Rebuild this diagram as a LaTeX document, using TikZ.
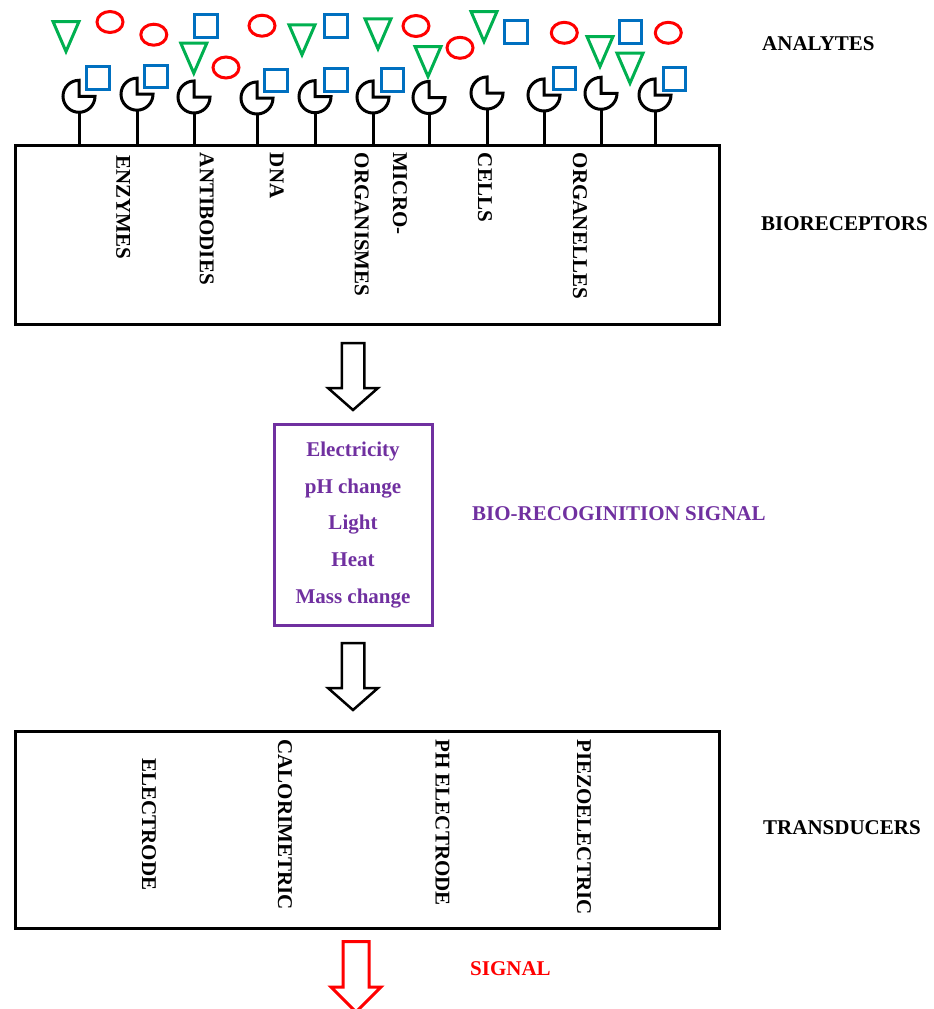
\documentclass[tikz,border=0pt]{standalone}
\usepackage{fontspec}
\setmainfont{Liberation Serif}
\usetikzlibrary{shapes,calc}
\definecolor{sigpurple}{HTML}{7030A0}
\definecolor{anablue}{HTML}{0070C0}
\definecolor{anagreen}{HTML}{00B050}
\definecolor{anared}{HTML}{FF0000}
% hollow block arrow: style, top centre, shaft half width, shaft length, head extension, head length
\newcommand{\blockarrow}[6]{\draw[#1] ([xshift=-#3]#2) -- ++(0,-#4) -- ++(-#5,0) -- ++(#3+#5,-#6) -- ++(#3+#5,#6) -- ++(-#5,0) -- ++(0,#4) -- cycle;}
% receptor head (circle with the upper right quarter cut away) and its stem
\newcommand{\receptor}[1]{\draw[recline] (#1.center) -- ++(16,0) arc[start angle=0, end angle=-270, radius=16] -- cycle;
  \draw[recline] (#1.south) -- (#1.south |- bio.north);}
% downward triangle hanging from the top centre point
\newcommand{\downtri}[1]{\draw[tri] ([xshift=-13]#1) -- ([xshift=13]#1) -- ([yshift=-30]#1) -- cycle;}

\begin{document}
\begin{tikzpicture}[x=1pt, y=1pt]
\tikzstyle{txt}=[font=\bfseries\fontsize{21}{25}\selectfont, inner sep=0]
\tikzstyle{vtxt}=[txt, rotate=-90, anchor=west]
\tikzstyle{side}=[txt, anchor=west]
\tikzstyle{panel}=[rectangle, draw=black, line width=3, minimum width=704]
\tikzstyle{sigbox}=[rectangle, draw=sigpurple, line width=3, text=sigpurple, minimum width=158, minimum height=201, align=center, font=\bfseries\fontsize{21}{36.7}\selectfont]
\tikzstyle{recnode}=[circle, minimum size=32, inner sep=0, outer sep=0]
\tikzstyle{recline}=[line width=3, black]
\tikzstyle{sq}=[rectangle, draw=anablue, line width=3, minimum size=22.5, inner sep=0]
\tikzstyle{oval}=[ellipse, draw=anared, line width=3, minimum width=26, minimum height=21, inner sep=0]
\tikzstyle{tri}=[draw=anagreen, line width=3]
\tikzstyle{hollow}=[draw=black, line width=2.5, fill=white]

\useasboundingbox (0,0) rectangle (934,-1009);

  % boxes
  \node[panel, minimum height=179] (bio)   at (367,-235) {};
  \node[sigbox]                    (sig)   at (353,-525) {Electricity\\pH change\\Light\\Heat\\Mass change};
  \node[panel, minimum height=197] (trans) at (367,-830) {};

  % side labels
  \node[side]             (analytes) at (762,-43.3)  {ANALYTES};
  \node[side]             (biorec)   at (761,-223.8) {BIORECEPTORS};
  \node[side, sigpurple]  (recsig)   at (472,-513.8) {BIO-RECOGINITION SIGNAL};
  \node[side]             (transd)   at (763,-827.5) {TRANSDUCERS};
  \node[side, anared]     (signal)   at (470,-968.8) {SIGNAL};

  % bioreceptor names
  \node[vtxt] (enz)   at (123.3,-155)   {ENZYMES};
  \node[vtxt] (anti)  at (206.7,-152.7) {ANTIBODIES};
  \node[vtxt] (dna)   at (276.7,-152.7) {DNA};
  \node[vtxt, align=left, font=\bfseries\fontsize{21}{38.3}\selectfont] (micro) at (380.8,-152.7) {MICRO-\\ORGANISMES};
  \node[vtxt] (cells) at (485,-152.7)   {CELLS};
  \node[vtxt] (organ) at (580,-152.7)   {ORGANELLES};

  % transducer names
  \node[vtxt] (elec)  at (149,-758.3)   {ELECTRODE};
  \node[vtxt] (calo)  at (285,-739.3)   {CALORIMETRIC};
  \node[vtxt] (phel)  at (442.5,-739.3) {PH ELECTRODE};
  \node[vtxt] (piezo) at (584,-739.3)   {PIEZOELECTRIC};

  % receptors
  \node[recnode] (r1)  at (79,-96.3)  {};
  \node[recnode] (r2)  at (137,-94.2) {};
  \node[recnode] (r3)  at (194,-97)   {};
  \node[recnode] (r4)  at (257,-98)   {};
  \node[recnode] (r5)  at (315,-96.7) {};
  \node[recnode] (r6)  at (373,-97)   {};
  \node[recnode] (r7)  at (429,-97.5) {};
  \node[recnode] (r8)  at (487,-93)   {};
  \node[recnode] (r9)  at (544,-95)   {};
  \node[recnode] (r10) at (601,-93.3) {};
  \node[recnode] (r11) at (655,-95)   {};
  \receptor{r1} \receptor{r2} \receptor{r3} \receptor{r4} \receptor{r5} \receptor{r6}
  \receptor{r7} \receptor{r8} \receptor{r9} \receptor{r10} \receptor{r11}

  % analytes
  \coordinate (t1) at (66,-21.5);
  \coordinate (t2) at (193.8,-43.2);
  \coordinate (t3) at (302,-24.8);
  \coordinate (t4) at (378,-18.8);
  \coordinate (t5) at (428,-46.5);
  \coordinate (t6) at (484,-11.5);
  \coordinate (t7) at (600,-36.5);
  \coordinate (t8) at (630,-53.2);
  \downtri{t1} \downtri{t2} \downtri{t3} \downtri{t4}
  \downtri{t5} \downtri{t6} \downtri{t7} \downtri{t8}

  \node[oval] (e1) at (110,-22)     {};
  \node[oval] (e2) at (153.8,-34.7) {};
  \node[oval] (e3) at (226,-67.5)   {};
  \node[oval] (e4) at (262,-25.7)   {};
  \node[oval] (e5) at (416,-26)     {};
  \node[oval] (e6) at (460,-47.8)   {};
  \node[oval] (e7) at (564.3,-32.8) {};
  \node[oval] (e8) at (668.3,-32.8) {};

  \node[sq] (s1) at (205.8,-25.8) {};
  \node[sq] (s2) at (335.8,-25.8) {};
  \node[sq] (s3) at (516,-32.2)   {};
  \node[sq] (s4) at (630.5,-32.2) {};
  \node[sq] (q1) at (97.8,-77.8)  {};
  \node[sq] (q2) at (156,-76.3)   {};
  \node[sq] (q3) at (276,-80.5)   {};
  \node[sq] (q4) at (336,-80)     {};
  \node[sq] (q5) at (392.5,-80)   {};
  \node[sq] (q6) at (564.5,-78.5) {};
  \node[sq] (q7) at (674.5,-78.8) {};

  % block arrows
  \coordinate (arrA) at (353,-343);
  \coordinate (arrB) at (353,-643);
  \coordinate (arrC) at (356,-941.5);
  \blockarrow{hollow}{arrA}{11.25}{45}{13.75}{22}
  \blockarrow{hollow}{arrB}{11.25}{45}{13.75}{22}
  \blockarrow{hollow, draw=anared, line width=3}{arrC}{13}{45.5}{12}{25}

\end{tikzpicture}
\end{document}
